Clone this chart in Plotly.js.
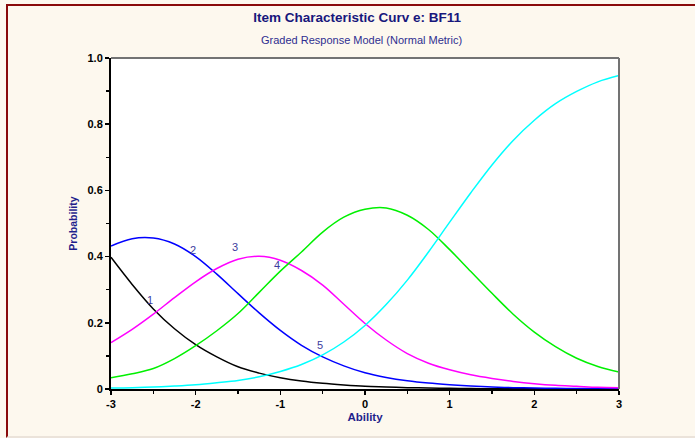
<!DOCTYPE html>
<html>
<head>
<meta charset="utf-8">
<script src="https://cdn.plot.ly/plotly-3.0.1.min.js"></script>
<style>
  html, body { margin: 0; padding: 0; background: #fdf8ee; }
  #wrap { position: relative; width: 695px; height: 438px; overflow: hidden; }
  #chart { position: absolute; left: 0; top: 0; width: 695px; height: 438px; }
  #frame {
    position: absolute; left: 6px; top: 4px; right: -4px; bottom: 0;
    border-left: 2px solid #8a0a0a; border-top: 2px solid #8a0a0a;
    border-bottom: 2px solid #ebe3da; pointer-events: none;
  }
</style>
</head>
<body>
<div id="wrap">
  <div id="chart"></div>
  <div id="frame"></div>
</div>
<script>
// Ability grid (theta)
const theta = [-3, -2.75, -2.5, -2.25, -2, -1.75, -1.5, -1.25, -1, -0.75, -0.5, -0.25,
               0, 0.25, 0.5, 0.75, 1, 1.25, 1.5, 1.75, 2, 2.25, 2.5, 2.75, 3];

// Category response probabilities, categories 1..5
const cat1 = [0.398, 0.316, 0.242, 0.182, 0.134, 0.097, 0.067, 0.048, 0.034, 0.024, 0.017, 0.012,
              0.008, 0.006, 0.004, 0.003, 0.002, 0.0013, 0.0009, 0.0007, 0.0005, 0.0003, 0.0002, 0.0002, 0.0001];
const cat2 = [0.432, 0.454, 0.456, 0.438, 0.400, 0.347, 0.288, 0.230, 0.177, 0.132, 0.097, 0.070,
              0.049, 0.035, 0.025, 0.018, 0.013, 0.009, 0.006, 0.004, 0.003, 0.002, 0.0014, 0.001, 0.0007];
const cat3 = [0.140, 0.180, 0.226, 0.276, 0.324, 0.364, 0.392, 0.401, 0.389, 0.358, 0.314, 0.256,
              0.198, 0.148, 0.107, 0.078, 0.058, 0.043, 0.032, 0.023, 0.016, 0.011, 0.008, 0.005, 0.004];
const cat4 = [0.034, 0.046, 0.062, 0.092, 0.131, 0.176, 0.228, 0.292, 0.356, 0.414, 0.474, 0.519,
              0.543, 0.547, 0.525, 0.482, 0.421, 0.355, 0.289, 0.226, 0.172, 0.128, 0.093, 0.068, 0.051];
const cat5 = [0.003, 0.004, 0.006, 0.009, 0.013, 0.019, 0.026, 0.037, 0.053, 0.074, 0.103, 0.142,
              0.192, 0.255, 0.329, 0.414, 0.504, 0.593, 0.677, 0.751, 0.812, 0.862, 0.899, 0.928, 0.947];

const seriesColors = ['#000000', '#0000ff', '#ff00ff', '#00f000', '#00ffff'];

// Category label placements along the curves
const labelText = ['1', '2', '3', '4', '5'];
const labelX = [-2.54, -2.03, -1.54, -1.04, -0.53];
const labelY = [0.268, 0.42, 0.428, 0.374, 0.132];

// Axis ticks
const xTickVals = [-3, -2, -1, 0, 1, 2, 3];
const xTickText = ['-3', '-2', '-1', '0', '1', '2', '3'];
const yTickVals = [0, 0.2, 0.4, 0.6, 0.8, 1.0];
const yTickText = ['0', '0.2', '0.4', '0.6', '0.8', '1.0'];

const FONT = '"Liberation Sans", Arial, Helvetica, sans-serif';

const cats = [cat1, cat2, cat3, cat4, cat5];
const traces = cats.map((vals, i) => ({
  x: theta,
  y: vals,
  type: 'scatter',
  mode: 'lines',
  name: labelText[i],
  line: { color: seriesColors[i], width: 1.5, shape: 'spline', smoothing: 1 },
  hoverinfo: 'skip'
}));

const annotations = labelText.map((t, i) => ({
  x: labelX[i], y: labelY[i], xref: 'x', yref: 'y',
  text: t, showarrow: false,
  font: { family: FONT, size: 11, color: '#3c3c9e' },
  xanchor: 'center', yanchor: 'middle'
}));

annotations.push({
  text: 'Graded Response Model (Normal Metric)',
  xref: 'paper', yref: 'paper', x: 0.4935, y: 1.055,
  xanchor: 'center', yanchor: 'middle', showarrow: false,
  font: { family: FONT, size: 11, color: '#2e2e90' }
});

const layout = {
  width: 695, height: 438,
  margin: { l: 111, r: 76, t: 58, b: 49 },
  paper_bgcolor: 'rgba(0,0,0,0)',
  plot_bgcolor: '#ffffff',
  showlegend: false,
  title: {
    text: 'Item Characteristic Curv e: BF11',
    font: { family: FONT, size: 13.5, color: '#17177c', weight: 'bold' },
    x: 0.514, xanchor: 'center', xref: 'container',
    y: 0.961, yanchor: 'middle', yref: 'container'
  },
  xaxis: {
    range: [-3, 3], fixedrange: true,
    tickvals: xTickVals, ticktext: xTickText,
    ticks: 'outside', ticklen: 4, tickwidth: 1.5, tickcolor: '#000',
    minor: { dtick: 0.5, ticks: 'outside', ticklen: 3, tickwidth: 1.5, tickcolor: '#000' },
    showline: true, linecolor: '#000', linewidth: 2,
    showgrid: false, zeroline: false,
    tickfont: { family: FONT, size: 11, color: '#000', weight: 'bold' },
    title: { text: 'Ability', standoff: 4,
             font: { family: FONT, size: 11.5, color: '#1f1f8c', weight: 'bold' } }
  },
  yaxis: {
    range: [0, 1], fixedrange: true,
    tickvals: yTickVals, ticktext: yTickText,
    ticks: 'outside', ticklen: 4, tickwidth: 1.5, tickcolor: '#000',
    minor: { dtick: 0.1, ticks: 'outside', ticklen: 3, tickwidth: 1.5, tickcolor: '#000' },
    showline: true, linecolor: '#000', linewidth: 2,
    showgrid: false, zeroline: false,
    tickfont: { family: FONT, size: 11, color: '#000', weight: 'bold' },
    title: { text: 'Probability', standoff: 8,
             font: { family: FONT, size: 10.5, color: '#1f1f8c', weight: 'bold' } }
  },
  shapes: [
    { type: 'line', xref: 'paper', yref: 'paper', x0: 0, x1: 1, y0: 1, y1: 1,
      line: { color: '#737373', width: 2 } },
    { type: 'line', xref: 'paper', yref: 'paper', x0: 1, x1: 1, y0: 0, y1: 1,
      line: { color: '#737373', width: 2 } }
  ],
  annotations: annotations
};

Plotly.newPlot('chart', traces, layout, { staticPlot: true, displayModeBar: false });
</script>
</body>
</html>
